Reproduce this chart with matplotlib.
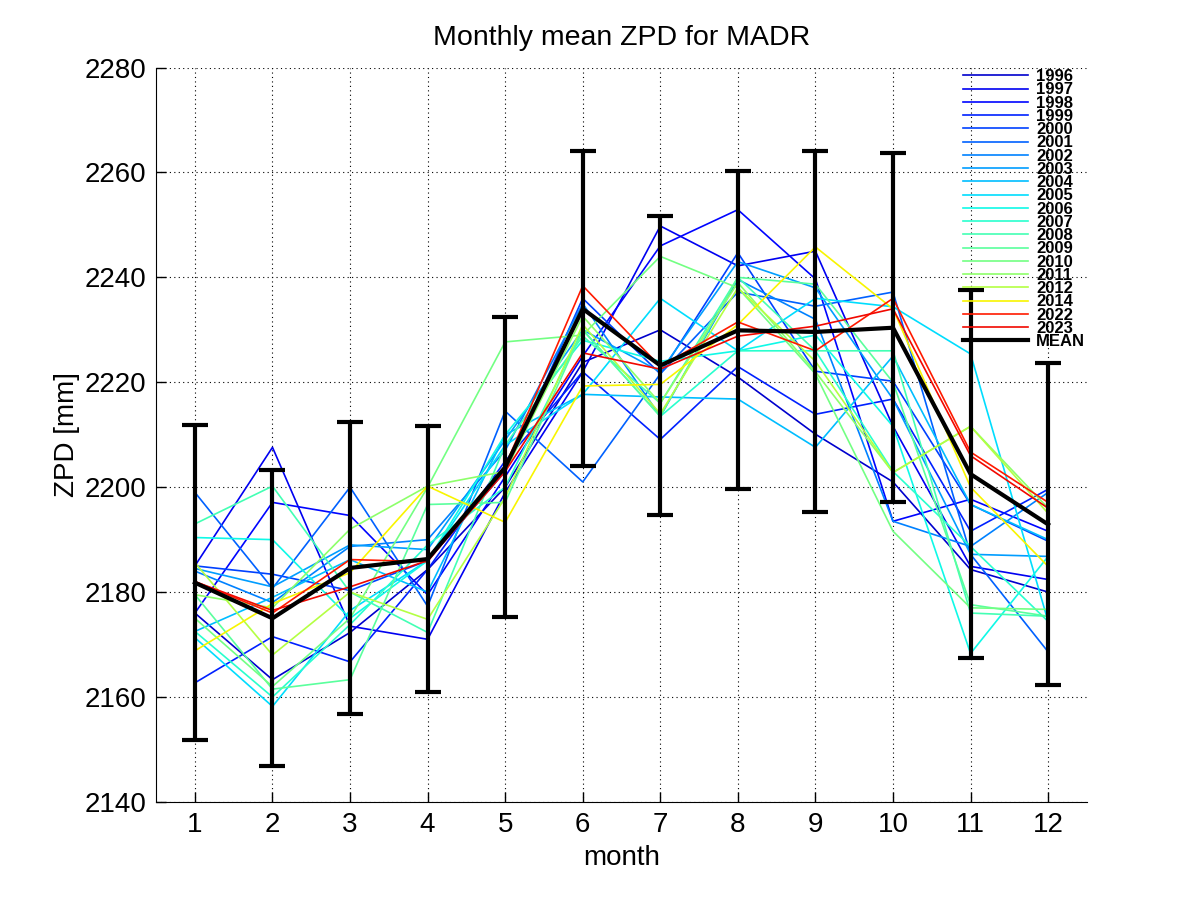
import numpy as np
import matplotlib
matplotlib.use("Agg")
import matplotlib.pyplot as plt

plt.rcParams['font.family'] = ['Liberation Sans', 'DejaVu Sans']

months = list(range(1, 13))
years = ['1996', '1997', '1998', '1999', '2000', '2001', '2002', '2003', '2004', '2005',
         '2006', '2007', '2008', '2009', '2010', '2011', '2012', '2014', '2022', '2023']

# colour position of each year in the jet map
cpos = [0.07, 0.10, 0.13, 0.16, 0.19, 0.22, 0.25, 0.28, 0.31, 0.34,
        0.37, 0.40, 0.43, 0.46, 0.49, 0.52, 0.57, 0.65, 0.88, 0.90]

zpd = [
    [2176.0, 2163.3, 2172.3, 2184.3, 2200.0, 2223.8, 2230.0, 2221.0, 2210.1, 2201.0, 2184.3, 2180.0],
    [2185.0, 2207.6, 2173.5, 2171.0, 2199.0, 2222.0, 2249.8, 2242.2, 2245.0, 2211.6, 2184.9, 2182.4],
    [2176.0, 2197.1, 2194.6, 2179.5, 2202.0, 2225.0, 2246.0, 2252.9, 2239.7, 2193.5, 2197.7, 2191.6],
    [2162.7, 2171.5, 2166.7, 2184.3, 2205.0, 2222.0, 2209.1, 2223.0, 2213.9, 2216.8, 2191.6, 2199.6],
    [2185.0, 2183.4, 2180.3, 2186.0, 2203.0, 2236.0, 2221.6, 2244.7, 2222.1, 2220.2, 2196.7, 2189.7],
    [2199.0, 2180.7, 2200.0, 2177.3, 2214.5, 2201.0, 2221.6, 2237.2, 2234.5, 2237.2, 2187.2, 2168.6],
    [2184.0, 2178.0, 2188.7, 2190.0, 2207.0, 2235.0, 2213.5, 2239.6, 2232.0, 2193.5, 2188.7, 2199.0],
    [2184.5, 2181.0, 2189.0, 2188.1, 2209.0, 2230.0, 2222.0, 2243.0, 2238.0, 2216.8, 2187.2, 2186.8],
    [2172.5, 2179.0, 2186.2, 2180.0, 2210.0, 2217.7, 2217.2, 2216.8, 2207.6, 2225.0, 2196.7, 2190.0],
    [2171.3, 2158.2, 2176.5, 2186.0, 2208.0, 2217.7, 2236.0, 2226.0, 2236.0, 2234.4, 2225.4, 2174.4],
    [2190.4, 2190.0, 2175.0, 2186.0, 2210.0, 2228.0, 2224.0, 2226.0, 2229.0, 2211.6, 2168.3, 2186.8],
    [2172.5, 2160.0, 2173.8, 2189.0, 2200.0, 2230.0, 2213.5, 2226.0, 2226.0, 2203.0, 2188.7, 2174.4],
    [2193.0, 2200.2, 2180.0, 2172.3, 2208.0, 2228.8, 2216.0, 2240.0, 2226.0, 2226.0, 2176.0, 2175.4],
    [2179.5, 2161.5, 2163.3, 2196.7, 2197.1, 2230.0, 2213.5, 2240.0, 2238.7, 2220.0, 2177.6, 2175.4],
    [2175.0, 2162.0, 2175.0, 2200.0, 2227.7, 2229.0, 2244.0, 2238.0, 2221.6, 2191.6, 2177.0, 2176.7],
    [2179.5, 2177.0, 2192.0, 2200.2, 2203.0, 2232.6, 2216.0, 2239.0, 2222.0, 2202.8, 2211.6, 2196.0],
    [2185.6, 2168.0, 2180.0, 2174.8, 2198.0, 2231.0, 2214.0, 2238.0, 2224.0, 2202.8, 2211.6, 2195.0],
    [2168.8, 2177.8, 2183.7, 2200.2, 2193.3, 2219.3, 2219.6, 2231.0, 2245.8, 2234.0, 2200.0, 2184.9],
    [2182.0, 2176.0, 2186.2, 2185.8, 2204.0, 2238.4, 2223.0, 2231.5, 2226.0, 2236.0, 2206.7, 2197.1],
    [2182.0, 2176.5, 2181.0, 2186.0, 2203.0, 2225.6, 2222.5, 2228.8, 2230.7, 2234.0, 2206.0, 2196.0],
]

mean_zpd = [2181.8, 2175.0, 2184.6, 2186.3, 2203.8, 2234.0, 2223.2, 2229.9, 2229.6, 2230.4, 2202.5, 2192.9]
std_zpd = [30.0, 28.2, 27.8, 25.3, 28.6, 30.0, 28.5, 30.3, 34.4, 33.3, 35.0, 30.7]

fig = plt.figure(figsize=(12.01, 9.01), dpi=100)
ax = fig.add_axes([0.13, 0.11, 0.775, 0.815])

cmap = plt.get_cmap('jet')
for yr, c, vals in zip(years, cpos, zpd):
    ax.plot(months, vals, color=cmap(c), lw=1.2, label=yr)

ax.errorbar(months, mean_zpd, yerr=std_zpd, fmt='none', ecolor='k',
            elinewidth=3, capsize=9.5, capthick=3, zorder=5)
ax.plot(months, mean_zpd, color='k', lw=3, label='MEAN', zorder=6)

ax.set_xlim(0.5, 12.5)
ax.set_ylim(2140, 2280)
ax.set_xticks(months)
ax.set_yticks(np.arange(2140, 2281, 20))
ax.grid(True, color='k', linestyle=(0, (1, 3)), lw=0.8)
ax.spines['top'].set_visible(False)
ax.spines['right'].set_visible(False)
ax.tick_params(direction='in', length=7, width=1, labelsize=20, pad=7)

ax.set_xlabel('month', fontsize=20, labelpad=5)
ax.set_ylabel('ZPD [mm]', fontsize=20, labelpad=3)
ax.set_title('Monthly mean ZPD for MADR', fontsize=20.5, pad=16)

leg = ax.legend(loc='upper right', frameon=False, prop={'weight': 'bold', 'size': 12},
                labelspacing=-0.105, handlelength=3.9, handletextpad=0.5,
                borderaxespad=0.0, borderpad=0.1)

fig.savefig('out.png', dpi=100)
